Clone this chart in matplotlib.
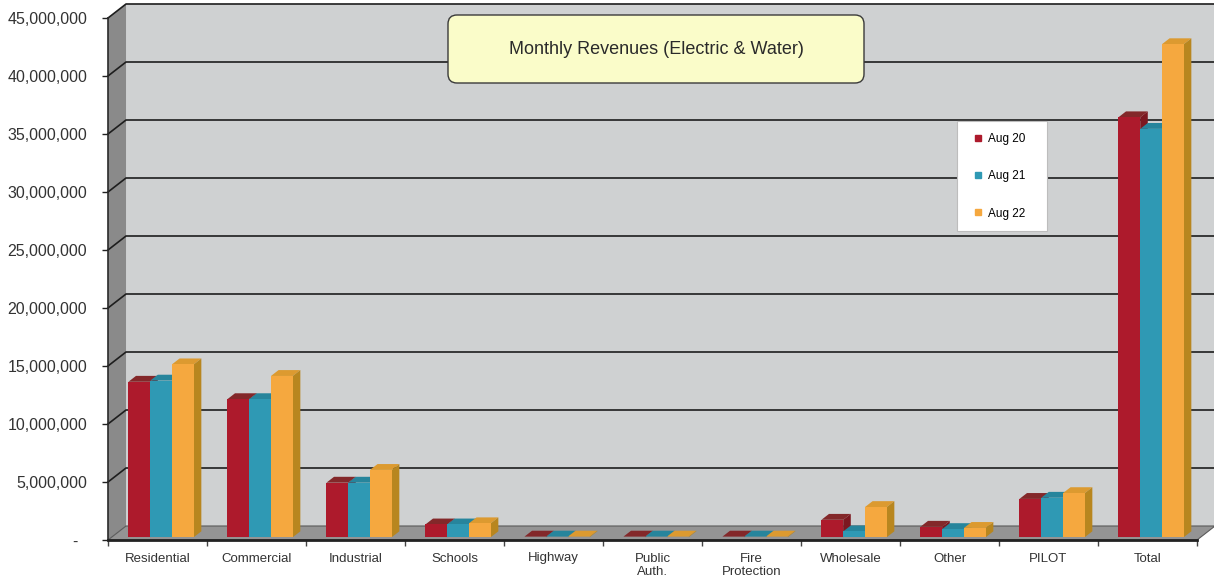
import numpy as np
import matplotlib
matplotlib.use("Agg")
import matplotlib.pyplot as plt
from matplotlib.patches import Polygon, FancyBboxPatch
from matplotlib.lines import Line2D
from matplotlib.ticker import FuncFormatter

plt.rcParams['font.family'] = ['Liberation Sans', 'DejaVu Sans']

# Revenue by customer class (dollars)
categories = ["Residential", "Commercial", "Industrial", "Schools", "Highway",
              "Public\nAuth.", "Fire\nProtection", "Wholesale", "Other", "PILOT", "Total"]
aug20 = [13.4e6, 11.9e6, 4.7e6, 1.1e6, 0.05e6, 0.05e6, 0.05e6, 1.5e6, 0.9e6, 3.3e6, 36.2e6]
aug21 = [13.5e6, 11.9e6, 4.7e6, 1.1e6, 0.05e6, 0.05e6, 0.05e6, 0.5e6, 0.7e6, 3.4e6, 35.2e6]
aug22 = [14.9e6, 13.9e6, 5.8e6, 1.2e6, 0.05e6, 0.05e6, 0.05e6, 2.6e6, 0.8e6, 3.8e6, 42.5e6]
series_names = ["Aug 20", "Aug 21", "Aug 22"]
yticks = np.arange(0, 45e6 + 1, 5e6)

# face colours: front, top, side
front_cols = ['#ad1a2c', '#2f99b4', '#f5a83f']
top_cols = ['#83282a', '#27859c', '#dc9a30']
side_cols = ['#7c1820', '#22768b', '#b8861f']

# depth of the box (in data units) and bar placement inside it
DX, DY = 0.182, 1.207e6
F0, F1 = 0.2, 0.62
W = 0.22
YMAX = 45e6

fig = plt.figure(figsize=(12.14, 5.81), dpi=100)
fig.patch.set_facecolor('white')
ax = fig.add_axes([108 / 1214, 41 / 581, 1089 / 1214, 522 / 581])
ax.set_xlim(-0.5, 10.5)
ax.set_ylim(0, YMAX)
ax.set_facecolor('none')


def poly(pts, fc, z, ec='none', lw=0):
    ax.add_patch(Polygon(pts, closed=True, facecolor=fc, edgecolor=ec,
                         linewidth=lw, zorder=z, clip_on=False))


# walls and floor
L, R = -0.5, 10.5
poly([(L + DX, DY), (R + DX, DY), (R + DX, YMAX + DY), (L + DX, YMAX + DY)], '#cfd1d2', 0.5)
poly([(L, 0), (L + DX, DY), (L + DX, YMAX + DY), (L, YMAX)], '#8a8a8a', 0.6)
poly([(L, 0), (R, 0), (R + DX, DY), (L + DX, DY)], '#949494', 0.7, ec='#5a5a5a', lw=0.8)

for v in yticks[1:]:
    ax.plot([L, L + DX, R + DX], [v, v + DY, v + DY], color='#1e1e1e', lw=1.2,
            clip_on=False, zorder=1)

# bars: front face via ax.bar, top and right side as parallelograms
x = np.arange(len(categories))
for j, vals in enumerate([aug20, aug21, aug22]):
    offs = (j - 1) * W
    bars = ax.bar(x + offs + F0 * DX, vals, W, bottom=F0 * DY, color=front_cols[j],
                  linewidth=0, clip_on=False)
    for i, (b, v) in enumerate(zip(bars, vals)):
        z = 3 + (3 * i + j) * 0.01
        b.set_zorder(z + 0.005)
        xl = i + offs - W / 2
        xr = xl + W
        y0, y1 = F0 * DY, F1 * DY
        poly([(xl + F0 * DX, v + y0), (xr + F0 * DX, v + y0),
              (xr + F1 * DX, v + y1), (xl + F1 * DX, v + y1)], top_cols[j], z)
        poly([(xr + F0 * DX, y0), (xr + F1 * DX, y1),
              (xr + F1 * DX, v + y1), (xr + F0 * DX, v + y0)], side_cols[j], z)

# axes and ticks
for s in ['top', 'right']:
    ax.spines[s].set_visible(False)
ax.spines['left'].set_color('#2a2a2a')
ax.spines['left'].set_linewidth(1.2)
ax.spines['bottom'].set_color('#222222')
ax.spines['bottom'].set_linewidth(2)
ax.spines['left'].set_zorder(2)
ax.spines['bottom'].set_zorder(2)

ax.set_yticks(yticks)
ax.yaxis.set_major_formatter(FuncFormatter(lambda v, p: '-  ' if v == 0 else f'{v:,.0f}'))
ax.tick_params(axis='y', length=4, width=1, color='#222222', pad=11,
               labelsize=11.5, labelcolor='#333333')

ax.set_xticks(x)
ax.set_xticklabels(categories)
ax.set_xticks(np.arange(-0.5, len(categories), 1), minor=True)
ax.tick_params(axis='x', which='major', length=0, pad=9, labelsize=9.5, labelcolor='#333333')
ax.tick_params(axis='x', which='minor', length=4, width=1, color='#444444')

# title box
tbox = FancyBboxPatch((4.48, 4.98), 4.16, 0.68, boxstyle='round,pad=0,rounding_size=0.09',
                      transform=fig.dpi_scale_trans, facecolor='#fafcc9',
                      edgecolor='#3a3a3a', linewidth=1.0, zorder=10)
fig.add_artist(tbox)
fig.text(6.56 / 12.14, 1 - 49 / 581, 'Monthly Revenues (Electric & Water)',
         ha='center', va='center', fontsize=13, color='#2a2a2a', zorder=11)

# legend
handles = [Line2D([], [], marker='s', ls='', color=c, markersize=5) for c in front_cols]
leg = fig.legend(handles, series_names, loc='upper left', mode='expand',
                 bbox_to_anchor=(957 / 1214, (581 - 229) / 581, 90 / 1214, 108 / 581),
                 bbox_transform=fig.transFigure,
                 fontsize=8.5, frameon=True, fancybox=False, edgecolor='#bdbdbd',
                 framealpha=1, labelspacing=2.15, handlelength=1.6, handletextpad=0.05,
                 borderpad=1.0, borderaxespad=0)
leg.get_frame().set_linewidth(0.8)
leg.set_zorder(12)

fig.savefig('out.png', dpi=100)
